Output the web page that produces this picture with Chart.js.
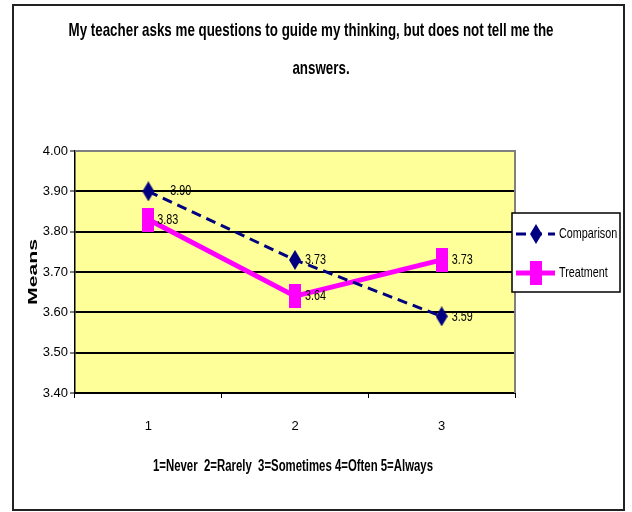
<!DOCTYPE html>
<html>
<head>
<meta charset="utf-8">
<script src="https://cdn.jsdelivr.net/npm/chart.js@4.4.1/dist/chart.umd.min.js"></script>
<style>
  html, body { margin: 0; padding: 0; background: #ffffff; }
  #wrap { width: 632px; height: 512px; position: relative; }
</style>
</head>
<body>
<div id="wrap"><canvas id="c" width="632" height="512"></canvas></div>
<script>
const categories = ['1', '2', '3'];
const comparisonValues = [3.90, 3.73, 3.59];
const treatmentValues = [3.83, 3.64, 3.73];
const seriesNames = ['Comparison', 'Treatment'];
const yTickMin = 3.4;
const yTickMax = 4.0;
const yTickStep = 0.1;
const titleLines = ['My teacher asks me questions to guide my thinking, but does not tell me the', 'answers.'];
const xTitle = '1=Never  2=Rarely  3=Sometimes 4=Often 5=Always';
const yTitle = 'Means';

const SANS = '"Liberation Sans", Arial, sans-serif';
const NAVY = '#000080';
const MAGENTA = '#FF00FF';

function makeDiamond(w, h, color) {
  const c = document.createElement('canvas');
  c.width = w; c.height = h;
  const g = c.getContext('2d');
  g.fillStyle = color;
  g.beginPath();
  g.moveTo(w / 2, 0); g.lineTo(w, h / 2); g.lineTo(w / 2, h); g.lineTo(0, h / 2);
  g.closePath(); g.fill();
  return c;
}
function makeRect(w, h, color) {
  const c = document.createElement('canvas');
  c.width = w; c.height = h;
  const g = c.getContext('2d');
  g.fillStyle = color;
  g.fillRect(0, 0, w, h);
  return c;
}
const diamondImg = makeDiamond(12, 20, NAVY);
const rectImg = makeRect(12, 24, MAGENTA);

const PLOT = { left: 75, top: 151, right: 515, bottom: 393 };

// draw text horizontally condensed/stretched by factor sx
function drawText(ctx, text, x, y, font, sx, align) {
  ctx.save();
  ctx.font = font;
  ctx.fillStyle = '#000';
  ctx.textBaseline = 'middle';
  ctx.textAlign = align || 'left';
  ctx.translate(x, y);
  ctx.scale(sx, 1);
  ctx.fillText(text, 0, 0);
  ctx.restore();
}

const framePlugin = {
  id: 'frame',
  beforeDraw(chart) {
    const ctx = chart.ctx;
    const a = chart.chartArea;
    ctx.save();
    ctx.fillStyle = '#ffffff';
    ctx.fillRect(0, 0, chart.width, chart.height);
    ctx.strokeStyle = '#222222';
    ctx.lineWidth = 2;
    ctx.strokeRect(13, 5, 611, 505);
    ctx.fillStyle = '#FFFF99';
    ctx.fillRect(a.left, a.top, a.right - a.left, a.bottom - a.top);
    ctx.restore();
  },
  afterDraw(chart) {
    const ctx = chart.ctx;
    const a = chart.chartArea;
    ctx.save();
    ctx.strokeStyle = '#808080';
    ctx.lineWidth = 2;
    ctx.beginPath();
    ctx.moveTo(a.left, a.top);
    ctx.lineTo(a.right, a.top);
    ctx.lineTo(a.right, a.bottom);
    ctx.stroke();
    ctx.restore();

    // chart title (condensed, two lines)
    const tFont = 'bold 19px ' + SANS;
    ctx.save();
    ctx.font = tFont;
    const w1 = ctx.measureText(titleLines[0]).width;
    ctx.restore();
    const tsx = 485 / w1;
    drawText(ctx, titleLines[0], 311, 31, tFont, tsx, 'center');
    drawText(ctx, titleLines[1], 321, 69, tFont, tsx, 'center');

    // x-axis title
    const xFont = 'bold 16px ' + SANS;
    ctx.save();
    ctx.font = xFont;
    const wx = ctx.measureText(xTitle).width;
    ctx.restore();
    drawText(ctx, xTitle, 293, 467, xFont, 280 / wx, 'center');

    // y-axis title (rotated, stretched)
    ctx.save();
    ctx.translate(33, (a.top + a.bottom) / 2);
    ctx.rotate(-Math.PI / 2);
    const yFont = 'bold 13px ' + SANS;
    ctx.font = yFont;
    const wy = ctx.measureText(yTitle).width;
    drawText(ctx, yTitle, 0, 0, yFont, 66 / wy, 'center');
    ctx.restore();

    // legend
    ctx.save();
    const lx = 512, ly = 213, lw = 108, lh = 79;
    ctx.fillStyle = '#ffffff';
    ctx.fillRect(lx, ly, lw, lh);
    ctx.strokeStyle = '#000';
    ctx.lineWidth = 1.5;
    ctx.strokeRect(lx, ly, lw, lh);
    const ds = chart.data.datasets;
    const rows = [ly + 21, ly + 60];
    ds.forEach((d, i) => {
      const y = rows[i];
      ctx.strokeStyle = d.borderColor;
      ctx.lineWidth = d.borderWidth;
      ctx.setLineDash(d.borderDash || []);
      ctx.beginPath();
      ctx.moveTo(lx + 4, y);
      ctx.lineTo(lx + 43, y);
      ctx.stroke();
      ctx.setLineDash([]);
      const img = d.pointStyle;
      ctx.drawImage(img, lx + 24 - img.width / 2, y - img.height / 2);
      drawText(ctx, d.label, lx + 47, y, '15px ' + SANS, 0.72, 'left');
    });
    ctx.restore();
  },
  afterDatasetsDraw(chart) {
    const ctx = chart.ctx;
    chart.data.datasets.forEach((d, di) => {
      const meta = chart.getDatasetMeta(di);
      meta.data.forEach((pt, i) => {
        const dx = (d.labelDx && d.labelDx[i]) || 10;
        drawText(ctx, Number(d.data[i]).toFixed(2), pt.x + dx, pt.y, '15px ' + SANS, 0.72, 'left');
      });
    });
  }
};

new Chart(document.getElementById('c'), {
  type: 'line',
  data: {
    labels: categories,
    datasets: [
      {
        label: seriesNames[0],
        data: comparisonValues,
        borderColor: NAVY,
        backgroundColor: NAVY,
        borderWidth: 3,
        borderDash: [10, 6],
        pointStyle: diamondImg,
        tension: 0,
        fill: false,
        labelDx: [22, 10, 10]
      },
      {
        label: seriesNames[1],
        data: treatmentValues,
        borderColor: MAGENTA,
        backgroundColor: MAGENTA,
        borderWidth: 5,
        pointStyle: rectImg,
        tension: 0,
        fill: false,
        labelDx: [9, 10, 10]
      }
    ]
  },
  options: {
    responsive: false,
    animation: false,
    devicePixelRatio: 1,
    layout: { padding: { left: 0, top: PLOT.top, right: 632 - PLOT.right, bottom: 0 } },
    plugins: {
      legend: { display: false },
      tooltip: { enabled: false },
      title: { display: false }
    },
    scales: {
      x: {
        type: 'category',
        offset: true,
        grid: { display: true, offset: true, drawOnChartArea: false, drawTicks: true, tickLength: 5, color: '#000', lineWidth: 1 },
        border: { display: true, color: '#000', width: 2 },
        ticks: { color: '#000', font: { family: SANS, size: 13 }, padding: 21, maxRotation: 0 },
        title: { display: false },
        afterFit(scale) { scale.height = 512 - PLOT.bottom; }
      },
      y: {
        min: yTickMin,
        max: yTickMax,
        ticks: {
          stepSize: yTickStep,
          color: '#000',
          font: { family: SANS, size: 13 },
          padding: 2,
          callback: (v) => Number(v).toFixed(2)
        },
        grid: {
          color: (c) => (c.tick && Math.abs(c.tick.value - yTickMax) < 1e-6) ? '#808080' : '#000',
          lineWidth: 2,
          tickColor: '#000',
          tickLength: 5,
          tickWidth: 1
        },
        border: { display: true, color: '#000', width: 1.5 },
        afterFit(scale) { scale.width = PLOT.left; }
      }
    }
  },
  plugins: [framePlugin]
});
</script>
</body>
</html>
